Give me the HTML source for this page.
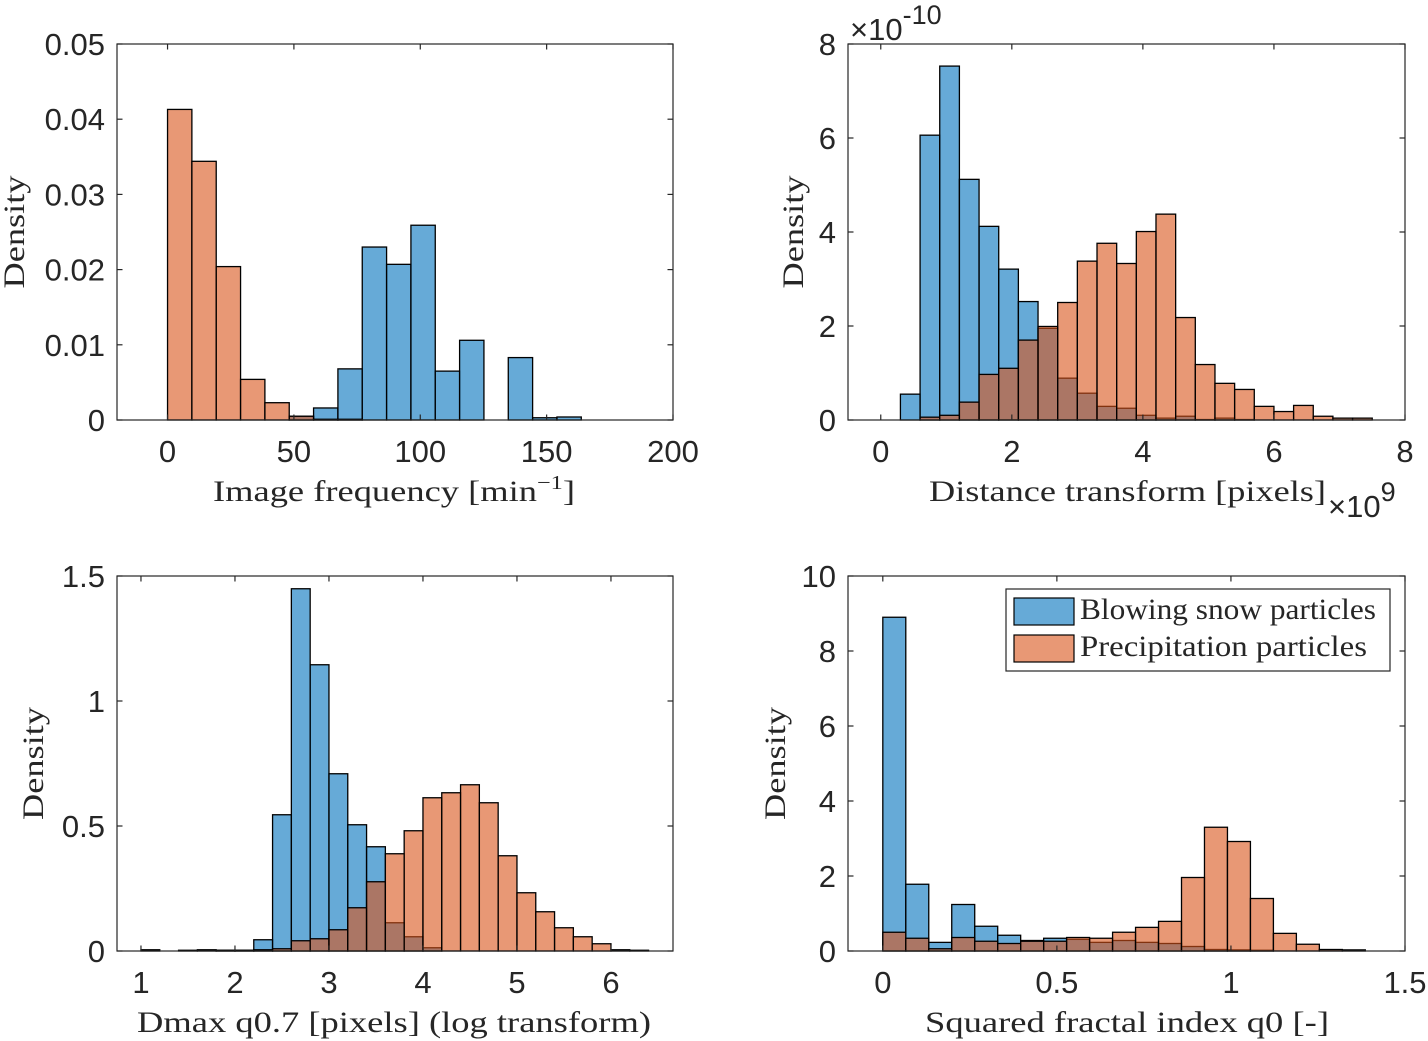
<!DOCTYPE html>
<html><head><meta charset="utf-8"><style>
html,body{margin:0;padding:0;background:#fff;}
svg{display:block;}
.tk{font-family:"Liberation Sans",sans-serif;font-size:31px;fill:#262626;}
.lb{font-family:"Liberation Serif",serif;font-size:30px;fill:#262626;}
</style></head><body>
<svg id="fig" width="1428" height="1041" viewBox="0 0 1428 1041" xmlns="http://www.w3.org/2000/svg"></svg>
<script>
// ---- Panel 1: Image frequency ----
const p1BinStart = 0, p1BinWidth = 9.63;
const p1Blowing = [0,0,0,0,0,0.0005,0.0016,0.0068,0.0230,0.0207,0.0259,0.0065,0.0106,0,0.0083,0.0003,0.0004];
const p1Precip  = [0.0413,0.0344,0.0204,0.0054,0.0023,0.0005,0.0001,0.0001,0,0,0,0,0,0,0,0,0];
const p1XTicks = [0,50,100,150,200];
const p1YTicks = [0,0.01,0.02,0.03,0.04,0.05];
const p1YTickLabels = ["0","0.01","0.02","0.03","0.04","0.05"];
// ---- Panel 2: Distance transform (x 1e9, y 1e-10) ----
const p2BinStart = 0.3, p2BinWidth = 0.3;
const p2Blowing = [0.55,6.06,7.53,5.12,4.12,3.21,2.52,1.95,0.89,0.57,0.29,0.25,0.10,0.04,0.08,0.01,0.04,0.01,0,0,0,0,0,0];
const p2Precip  = [0,0.06,0.10,0.38,0.97,1.10,1.70,1.99,2.50,3.38,3.76,3.33,4.01,4.38,2.18,1.18,0.78,0.65,0.29,0.18,0.31,0.08,0.04,0.04];
const p2XTicks = [0,2,4,6,8];
const p2YTicks = [0,2,4,6,8];
// ---- Panel 3: Dmax q0.7 ----
const p3BinStart = 1, p3BinWidth = 0.2;
const p3Blowing = [0,0,0.003,0,0.003,0.003,0.045,0.545,1.449,1.145,0.709,0.505,0.417,0.113,0.057,0.013,0,0,0,0,0,0,0,0,0,0,0];
const p3Precip  = [0.005,0,0,0.005,0.003,0.003,0.005,0.009,0.041,0.049,0.085,0.173,0.277,0.389,0.481,0.613,0.633,0.665,0.593,0.381,0.233,0.157,0.093,0.057,0.029,0.005,0.003];
const p3XTicks = [1,2,3,4,5,6];
const p3YTicks = [0,0.5,1,1.5];
// ---- Panel 4: Squared fractal index ----
const p4BinStart = 0, p4BinWidth = 0.066;
const p4Blowing = [8.90,1.78,0.23,1.24,0.66,0.42,0.28,0.34,0.31,0.23,0.28,0.23,0.20,0.12,0.04,0.03,0.02,0,0,0,0];
const p4Precip  = [0.50,0.34,0.06,0.36,0.26,0.20,0.26,0.26,0.36,0.34,0.50,0.63,0.79,1.96,3.30,2.92,1.40,0.47,0.18,0.04,0.03];
const p4XTicks = [0,0.5,1,1.5];
const p4XTickLabels = ["0","0.5","1","1.5"];
const p4YTicks = [0,2,4,6,8,10];

const NS="http://www.w3.org/2000/svg";
const fig=document.getElementById('fig');
function mk(tag,attrs,parent){const e=document.createElementNS(NS,tag);for(const k in attrs)e.setAttribute(k,attrs[k]);(parent||fig).appendChild(e);return e;}

function panel(o){
  const g=mk('g',{});
  
  
  const sx=v=>o.x0+(v-o.xmin)/(o.xmax-o.xmin)*(o.x1-o.x0);
  const sy=v=>o.y1-(v-o.ymin)/(o.ymax-o.ymin)*(o.y1-o.y0);
  const bg=mk('rect',{x:o.x0,y:o.y0,width:o.x1-o.x0,height:o.y1-o.y0,fill:'#fff'},g);
  
  
  const series=[[o.blue,'#0072BD','blowing'],[o.orange,'#D95319','precip']];
  series.forEach(([vals,col,nm])=>{
    vals.forEach((v,i)=>{
      if(v<=0)return;
      const a=o.bs+i*o.bw,b=a+o.bw;
      const r=mk('rect',{x:sx(a),y:sy(v),width:sx(b)-sx(a),height:sy(0)-sy(v),fill:col,'fill-opacity':0.6,stroke:'#000','stroke-width':1.3},g);
      
      
    });
  });
  const box=mk('rect',{x:o.x0,y:o.y0,width:o.x1-o.x0,height:o.y1-o.y0,fill:'none',stroke:'#262626','stroke-width':1.2},g);
  
  
  o.xt.forEach((t,i)=>{
    const x=sx(t);
    mk('line',{x1:x,x2:x,y1:o.y1,y2:o.y1-5.5,stroke:'#262626','stroke-width':1.2},g);
    mk('line',{x1:x,x2:x,y1:o.y0,y2:o.y0+5.5,stroke:'#262626','stroke-width':1.2},g);
    const tx=mk('text',{x:x,y:o.y1+42,'text-anchor':'middle',class:'tk'},g);
    tx.textContent=o.xtl?o.xtl[i]:String(t);
    
    
  });
  o.yt.forEach((t,i)=>{
    const y=sy(t);
    mk('line',{x1:o.x0,x2:o.x0+5.5,y1:y,y2:y,stroke:'#262626','stroke-width':1.2},g);
    mk('line',{x1:o.x1,x2:o.x1-5.5,y1:y,y2:y,stroke:'#262626','stroke-width':1.2},g);
    const tx=mk('text',{x:o.x0-12,y:y+11,'text-anchor':'end',class:'tk'},g);
    tx.textContent=o.ytl?o.ytl[i]:String(t);
    
    
  });
  const xl=mk('text',{x:o.xlx,y:o.xly,'text-anchor':'start',class:'lb',textLength:o.xlw,lengthAdjust:'spacingAndGlyphs'},g);
  xl.innerHTML=o.xlabel;
  
  
  const yc=(o.y0+o.y1)/2;
  const yl=mk('text',{x:0,y:0,'text-anchor':'middle',class:'lb',transform:`translate(${o.ylx},${yc}) rotate(-90)`,textLength:113,lengthAdjust:'spacingAndGlyphs'},g);
  yl.textContent='Density';
  
  
  return g;
}

panel({name:'panel-image-frequency',x0:117,x1:673,y0:44,y1:420,xmin:-20,xmax:200,ymin:0,ymax:0.05,
  bs:p1BinStart,bw:p1BinWidth,blue:p1Blowing,orange:p1Precip,xt:p1XTicks,yt:p1YTicks,ytl:p1YTickLabels,
  xlabel:'Image frequency [min<tspan dy="-12" font-size="20">−1</tspan><tspan dy="12">]</tspan>',xlx:213,xly:501,xlw:362,ylx:24});
panel({name:'panel-distance-transform',x0:848,x1:1405,y0:44,y1:420,xmin:-0.5,xmax:8,ymin:0,ymax:8,
  bs:p2BinStart,bw:p2BinWidth,blue:p2Blowing,orange:p2Precip,xt:p2XTicks,yt:p2YTicks,
  xlabel:'Distance transform [pixels]',xlx:929,xly:501,xlw:397,ylx:803});
panel({name:'panel-dmax',x0:117,x1:673,y0:576,y1:951,xmin:0.745,xmax:6.66,ymin:0,ymax:1.5,
  bs:p3BinStart,bw:p3BinWidth,blue:p3Blowing,orange:p3Precip,xt:p3XTicks,yt:p3YTicks,
  xlabel:'Dmax q0.7 [pixels] (log transform)',xlx:137,xly:1032,xlw:514,ylx:43});
panel({name:'panel-fractal-index',x0:848,x1:1405,y0:576,y1:951,xmin:-0.1,xmax:1.5,ymin:0,ymax:10,
  bs:p4BinStart,bw:p4BinWidth,blue:p4Blowing,orange:p4Precip,xt:p4XTicks,xtl:p4XTickLabels,yt:p4YTicks,
  xlabel:'Squared fractal index q0 [-]',xlx:925,xly:1032,xlw:404,ylx:785});

// exponent annotations
const e1=mk('text',{x:850,y:40,class:'tk','font-size':'33'});
e1.innerHTML='×10<tspan dy="-16" font-size="27">-10</tspan>';


const e2=mk('text',{x:1328,y:517,class:'tk','font-size':'33'});
e2.innerHTML='×10<tspan dy="-16" font-size="27">9</tspan>';



// legend
const lg=mk('g',{});


mk('rect',{x:1006,y:589,width:384,height:82,fill:'#fff',stroke:'#262626','stroke-width':1.2},lg);
const s1=mk('rect',{x:1014,y:598,width:60,height:27,fill:'#0072BD','fill-opacity':0.6,stroke:'#000','stroke-width':1.2},lg);


const s2=mk('rect',{x:1014,y:635,width:60,height:27,fill:'#D95319','fill-opacity':0.6,stroke:'#000','stroke-width':1.2},lg);


const t1=mk('text',{x:1080,y:619,class:'lb',textLength:296,lengthAdjust:'spacingAndGlyphs'},lg);
t1.textContent='Blowing snow particles';


const t2=mk('text',{x:1080,y:656,class:'lb',textLength:287,lengthAdjust:'spacingAndGlyphs'},lg);
t2.textContent='Precipitation particles';


</script>
</body></html>
